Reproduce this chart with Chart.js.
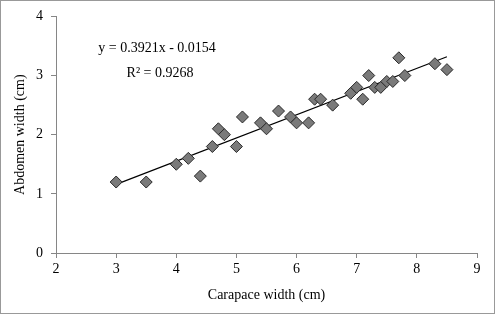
<!DOCTYPE html>
<html>
<head>
<meta charset="utf-8">
<script src="https://cdn.jsdelivr.net/npm/chart.js@4"></script>
<style>
  html, body { margin: 0; padding: 0; background: #fff; }
  #wrap { width: 500px; height: 318px; position: relative; }
</style>
</head>
<body>
<div id="wrap"><canvas id="crabChart" width="500" height="318"></canvas></div>
<script>
// carapace width (cm) and abdomen width (cm)
const carapace = [3.0, 3.5, 4.0, 4.2, 4.4, 4.6, 4.7, 4.8, 5.0, 5.1, 5.4, 5.5, 5.7, 5.9, 6.0, 6.2,
                  6.3, 6.4, 6.6, 6.9, 7.0, 7.1, 7.2, 7.3, 7.4, 7.5, 7.6, 7.7, 7.8, 8.3, 8.5];
const abdomen  = [1.2, 1.2, 1.5, 1.6, 1.3, 1.8, 2.1, 2.0, 1.8, 2.3, 2.2, 2.1, 2.4, 2.3, 2.2, 2.2,
                  2.6, 2.6, 2.5, 2.7, 2.8, 2.6, 3.0, 2.8, 2.8, 2.9, 2.9, 3.3, 3.0, 3.2, 3.1];

// linear trend line end points
const trendX = [3.0, 8.5];
const trendY = [1.161, 3.317];

const xTicks = [2, 3, 4, 5, 6, 7, 8, 9];
const yTicks = [0, 1, 2, 3, 4];

const equationText = 'y = 0.3921x - 0.0154';
const rSquaredText = 'R\u00b2 = 0.9268';

const serif = 'Liberation Serif';
const axisGray = '#868686';

// frame round the whole chart + regression text
const decorations = {
    id: 'decorations',
    beforeDraw(chart) {
        const ctx = chart.ctx;
        ctx.save();
        ctx.fillStyle = '#fff';
        ctx.fillRect(0, 0, chart.width, chart.height);
        ctx.restore();
    },
    afterDraw(chart) {
        const ctx = chart.ctx;
        const xs = chart.scales.x, ys = chart.scales.y;
        ctx.save();
        ctx.strokeStyle = '#999';
        ctx.lineWidth = 1;
        ctx.strokeRect(0.5, 0.5, 494, 313);
        ctx.fillStyle = '#000';
        ctx.font = '14px "' + serif + '"';
        ctx.textAlign = 'center';
        ctx.textBaseline = 'middle';
        ctx.fillText(equationText, xs.getPixelForValue(3.68), ys.getPixelForValue(3.46));
        ctx.fillText(rSquaredText, xs.getPixelForValue(3.73), ys.getPixelForValue(3.04));
        ctx.restore();
    }
};

new Chart(document.getElementById('crabChart'), {
    type: 'scatter',
    data: {
        datasets: [{
            label: 'Abdomen width',
            data: carapace.map((x, i) => ({ x: x, y: abdomen[i] })),
            pointStyle: 'rectRot',
            pointRadius: 6,
            pointHoverRadius: 6,
            backgroundColor: '#7a7a7a',
            borderColor: '#2a2a2a',
            borderWidth: 1
        }, {
            label: 'Linear',
            type: 'line',
            data: trendX.map((x, i) => ({ x: x, y: trendY[i] })),
            borderColor: '#000',
            borderWidth: 1.2,
            pointRadius: 0,
            fill: false
        }]
    },
    options: {
        responsive: false,
        animation: false,
        layout: { padding: { left: 12, top: 16, right: 23, bottom: 14 } },
        plugins: {
            legend: { display: false },
            tooltip: { enabled: false }
        },
        scales: {
            x: {
                type: 'linear',
                min: 2, max: 9,
                afterBuildTicks: axis => { axis.ticks = xTicks.map(v => ({ value: v })); },
                afterFit: axis => { axis.height = 51; },
                border: { color: axisGray, width: 1 },
                grid: { drawOnChartArea: false, color: axisGray, tickLength: 5 },
                ticks: { color: '#000', padding: 3, font: { family: serif, size: 14 } },
                title: { display: true, text: 'Carapace width (cm)', color: '#000',
                         font: { family: serif, size: 14 }, padding: 0 }
            },
            y: {
                type: 'linear',
                min: 0, max: 4,
                afterBuildTicks: axis => { axis.ticks = yTicks.map(v => ({ value: v })); },
                afterFit: axis => { axis.width = 44; },
                border: { color: axisGray, width: 1 },
                grid: { drawOnChartArea: false, color: axisGray, tickLength: 5 },
                ticks: { color: '#000', padding: 8, font: { family: serif, size: 14 } },
                title: { display: true, text: 'Abdomen width (cm)', color: '#000',
                         font: { family: serif, size: 14 }, padding: 0 }
            }
        }
    },
    plugins: [decorations]
});
</script>
</body>
</html>
